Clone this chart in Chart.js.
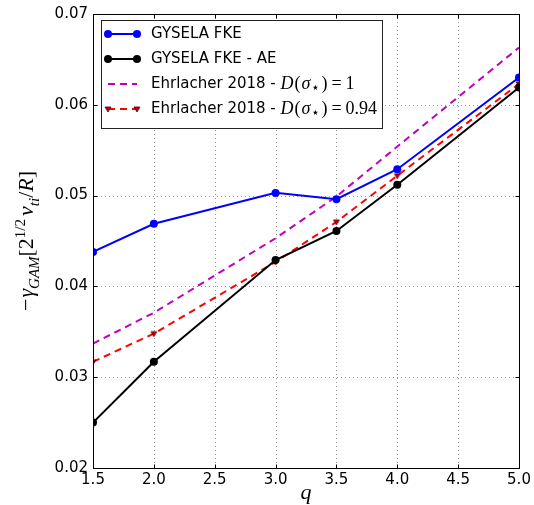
<!DOCTYPE html>
<html>
<head>
<meta charset="utf-8">
<script src="https://cdn.jsdelivr.net/npm/chart.js@4.4.0/dist/chart.umd.min.js"></script>
<style>
  html, body { margin: 0; padding: 0; background: #fff; }
  #wrap { width: 534px; height: 505px; }
</style>
</head>
<body>
<div id="wrap"><canvas id="grafico" width="534" height="505"></canvas></div>
<script>
// Valores de q e taxas de amortecimento GAM
const q = [1.5, 2.0, 3.0, 3.5, 4.0, 5.0];
const gyselaFke = [0.0438, 0.0469, 0.0503, 0.0496, 0.0529, 0.0630];
const gyselaFkeAe = [0.0250, 0.0317, 0.0429, 0.0461, 0.0512, 0.0619];
const ehrlacherD1 = [0.0337, 0.0371, 0.0453, 0.0499, 0.0554, 0.0663];
const ehrlacherD094 = [0.0317, 0.0348, 0.0427, 0.0471, 0.0522, 0.0623];
const ticksX = [1.5, 2.0, 2.5, 3.0, 3.5, 4.0, 4.5, 5.0];
const ticksY = [0.02, 0.03, 0.04, 0.05, 0.06, 0.07];

const pares = (ys) => q.map((x, i) => ({ x, y: ys[i] }));
const serif = '"Liberation Serif", "DejaVu Serif", serif';
const sans = '"DejaVu Sans", sans-serif';

// Desenha uma sequência de pedaços de texto (com sub/sobrescrito)
function medirPartes(ctx, partes, tam) {
  let w = 0;
  partes.forEach(p => {
    ctx.font = `${p.it ? 'italic ' : ''}${Math.round(tam * (p.esc || 1))}px ${p.fam || serif}`;
    w += (p.pre || 0) + ctx.measureText(p.t).width + (p.dx || 0);
  });
  return w;
}
function desenharPartes(ctx, partes, x, y, tam) {
  partes.forEach(p => {
    ctx.font = `${p.it ? 'italic ' : ''}${Math.round(tam * (p.esc || 1))}px ${p.fam || serif}`;
    x += p.pre || 0;
    ctx.fillText(p.t, x, y + (p.dy || 0) * tam);
    x += ctx.measureText(p.t).width + (p.dx || 0);
  });
  return x;
}

const tituloY = [
  { t: '\u2212', dx: 1 }, { t: '\u03b3', it: true },
  { t: 'GAM', it: true, esc: 0.7, dy: 0.25 },
  { t: '[' }, { t: '2' }, { t: '1/2', esc: 0.7, dy: -0.38, dx: 3 },
  { t: 'v', it: true }, { t: 'ti', it: true, esc: 0.7, dy: 0.25 },
  { t: '/' }, { t: 'R', it: true }, { t: ']' }
];

// pedaços em fonte serifada usam escala 1.2 sobre o tamanho base da legenda
const matematica = (valor) => [
  { t: 'D', it: true, esc: 1.2, dx: 1 }, { t: '(', esc: 1.2, dx: 1 }, { t: '\u03c3', it: true, esc: 1.2 },
  { t: '\u22c6', esc: 0.95, dy: 0.28, pre: 1, dx: 1 }, { t: ')', esc: 1.2, dx: 4 },
  { t: '=', esc: 1.2, dx: 4 }, { t: valor, esc: 1.2 }
];

const itensLegenda = [
  { cor: '#0000ff', dash: [], ponto: 'circle', partes: [{ t: 'GYSELA FKE', fam: sans }] },
  { cor: '#000000', dash: [], ponto: 'circle', partes: [{ t: 'GYSELA FKE - AE', fam: sans }] },
  { cor: '#bf00bf', dash: [7, 5], ponto: null,
    partes: [{ t: 'Ehrlacher 2018 - ', fam: sans }].concat(matematica('1')) },
  { cor: '#ff0000', dash: [7, 5], ponto: 'tri',
    partes: [{ t: 'Ehrlacher 2018 - ', fam: sans }].concat(matematica('0.94')) }
];

function marcador(ctx, tipo, x, y, cor) {
  ctx.save();
  ctx.setLineDash([]);
  if (tipo === 'circle') {
    ctx.fillStyle = cor;
    ctx.beginPath(); ctx.arc(x, y, 4, 0, Math.PI * 2); ctx.fill();
  } else if (tipo === 'tri') {
    ctx.fillStyle = '#c00000'; ctx.strokeStyle = '#5a0000'; ctx.lineWidth = 0.8;
    ctx.beginPath(); ctx.moveTo(x - 3, y - 2); ctx.lineTo(x + 3, y - 2); ctx.lineTo(x, y + 3); ctx.closePath();
    ctx.fill(); ctx.stroke();
  }
  ctx.restore();
}

// Grade pontilhada, moldura, marcas internas, títulos e legenda
const moldura = {
  id: 'moldura',
  beforeDatasetsDraw(chart) {
    const { ctx, chartArea: a, scales: { x, y } } = chart;
    ctx.save();
    ctx.strokeStyle = '#9a9a9a'; ctx.lineWidth = 1; ctx.setLineDash([1, 3]);
    ticksX.forEach(v => {
      const px = Math.round(x.getPixelForValue(v)) + 0.5;
      ctx.beginPath(); ctx.moveTo(px, a.top); ctx.lineTo(px, a.bottom); ctx.stroke();
    });
    ticksY.forEach(v => {
      const py = Math.round(y.getPixelForValue(v)) + 0.5;
      ctx.beginPath(); ctx.moveTo(a.left, py); ctx.lineTo(a.right, py); ctx.stroke();
    });
    ctx.restore();
  },
  afterDatasetsDraw(chart) {
    const { ctx, chartArea: a, scales: { x, y } } = chart;
    ctx.save();
    ctx.strokeStyle = '#000'; ctx.lineWidth = 1; ctx.setLineDash([]);
    const l = Math.round(a.left) + 0.5, r = Math.round(a.right) + 0.5;
    const t = Math.round(a.top) + 0.5, b = Math.round(a.bottom) + 0.5;
    ctx.strokeRect(l, t, r - l, b - t);
    ctx.beginPath();
    ticksX.forEach(v => {
      const px = Math.round(x.getPixelForValue(v)) + 0.5;
      ctx.moveTo(px, b); ctx.lineTo(px, b - 4);
      ctx.moveTo(px, t); ctx.lineTo(px, t + 4);
    });
    ticksY.forEach(v => {
      const py = Math.round(y.getPixelForValue(v)) + 0.5;
      ctx.moveTo(l, py); ctx.lineTo(l + 4, py);
      ctx.moveTo(r, py); ctx.lineTo(r - 4, py);
    });
    ctx.stroke();

    // título do eixo x
    ctx.fillStyle = '#000'; ctx.textAlign = 'center'; ctx.textBaseline = 'alphabetic';
    ctx.font = `italic 22px ${serif}`;
    ctx.fillText('q', (a.left + a.right) / 2, 499);

    // título do eixo y (rotacionado)
    ctx.save();
    ctx.translate(33, (a.top + a.bottom) / 2);
    ctx.rotate(-Math.PI / 2);
    ctx.textAlign = 'left';
    const tam = 22;
    const w = medirPartes(ctx, tituloY, tam);
    desenharPartes(ctx, tituloY, -w / 2, 0, tam);
    ctx.restore();

    // legenda
    const lx = 101.5, ly = 20.5, lw = 281, lh = 108;
    ctx.fillStyle = '#fff'; ctx.fillRect(lx, ly, lw, lh);
    ctx.strokeStyle = '#222'; ctx.lineWidth = 1; ctx.strokeRect(lx, ly, lw, lh);
    const linhas = [34, 59, 84, 109];
    itensLegenda.forEach((it, i) => {
      const yy = linhas[i];
      ctx.save();
      ctx.strokeStyle = it.cor; ctx.lineWidth = 2; ctx.setLineDash(it.dash);
      ctx.beginPath(); ctx.moveTo(108, yy); ctx.lineTo(137, yy); ctx.stroke();
      ctx.restore();
      if (it.ponto) { marcador(ctx, it.ponto, 108, yy, it.cor); marcador(ctx, it.ponto, 137, yy, it.cor); }
      ctx.fillStyle = '#000'; ctx.textAlign = 'left'; ctx.textBaseline = 'middle';
      desenharPartes(ctx, it.partes, 151, yy, 15);
    });
    ctx.restore();
  }
};

const triangulo = (() => {
  const c = document.createElement('canvas');
  c.width = 10; c.height = 10;
  const g = c.getContext('2d');
  g.fillStyle = '#c00000'; g.strokeStyle = '#5a0000'; g.lineWidth = 0.8;
  g.beginPath(); g.moveTo(2, 3); g.lineTo(8, 3); g.lineTo(5, 8); g.closePath(); g.fill(); g.stroke();
  return c;
})();

new Chart(document.getElementById('grafico'), {
  type: 'line',
  data: {
    datasets: [
      { label: 'Ehrlacher D=1', data: pares(ehrlacherD1), borderColor: '#bf00bf', borderWidth: 2,
        borderDash: [7, 5], pointRadius: 0, order: 4 },
      { label: 'Ehrlacher D=0.94', data: pares(ehrlacherD094), borderColor: '#ff0000', borderWidth: 2,
        borderDash: [7, 5], pointStyle: triangulo, pointRadius: 5, order: 3 },
      { label: 'GYSELA FKE - AE', data: pares(gyselaFkeAe), borderColor: '#000000', backgroundColor: '#000000',
        borderWidth: 2, pointRadius: 4, pointBorderWidth: 0, order: 2 },
      { label: 'GYSELA FKE', data: pares(gyselaFke), borderColor: '#0000ff', backgroundColor: '#0000ff',
        borderWidth: 2, pointRadius: 4, pointBorderWidth: 0, order: 1 }
    ]
  },
  options: {
    responsive: false,
    animation: false,
    layout: { padding: { top: 14, right: 15, left: 0, bottom: 0 } },
    plugins: { legend: { display: false }, tooltip: { enabled: false } },
    scales: {
      x: {
        type: 'linear', min: 1.5, max: 5.0,
        afterBuildTicks: s => { s.ticks = ticksX.map(v => ({ value: v })); },
        afterFit: s => { s.height = 37; },
        grid: { display: false, drawTicks: false },
        border: { display: false },
        ticks: { color: '#000', font: { family: sans, size: 15 }, padding: 3, maxRotation: 0,
          callback: v => v.toFixed(1) }
      },
      y: {
        min: 0.02, max: 0.07,
        afterBuildTicks: s => { s.ticks = ticksY.map(v => ({ value: v })); },
        afterFit: s => { s.width = 93; },
        grid: { display: false, drawTicks: false },
        border: { display: false },
        ticks: { color: '#000', font: { family: sans, size: 15 }, padding: 5,
          callback: v => v.toFixed(2) }
      }
    }
  },
  plugins: [moldura]
});
</script>
</body>
</html>
